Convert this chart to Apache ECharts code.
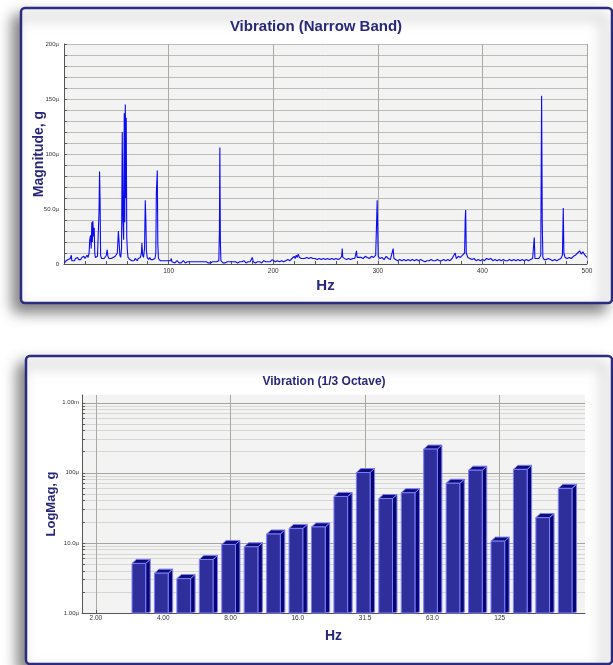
<!DOCTYPE html>
<html><head><meta charset="utf-8">
<script src="https://cdn.jsdelivr.net/npm/echarts@6/dist/echarts.min.js"></script>
<style>html,body{margin:0;padding:0;background:#fff}#c{width:613px;height:665px}</style>
</head><body><div id="c"></div>
<script>
// ---------- Narrow band spectrum: [Hz, magnitude in µg] ----------
const narrowBand = [
[0.5,1],[2,3],[3,2],[4,4],[5,3],[6,5],[7,8],[7.5,3],[9,4],[10,3],[11,5],[12,4],[13,6],[14,4],[15,5],[16,4],[17,6],[18,5],[19,7],[20,5],[21,6],[22,8],[23,6],
[24,10],[24.6,22],[25.4,26],[26,14],[26.6,38],[27.1,20],[27.6,39],[28.2,25],[28.9,33],[29.4,10],[30,6],[31,5],[32,7],[33,6],[33.5,48],[34,84],[34.5,57],[35,8],[35.8,5],[36.6,6],[37.5,4],[38.4,5],[39.5,6],[40.5,8],[41.3,13],[42,7],[43,5],[44,6],[45,5],[46,4],[47,6],[48,5],[49,7],[50,6],
[51,10],[52,30],[52.8,18],[53.4,8],[54.2,6],[55,14],[55.7,120],[56.3,40],[57,22],[57.6,137],[58.1,38],[58.6,145],[59.1,60],[59.5,133],[60,24],[60.6,12],[61.2,6],[62,5],[63,4],[64,5],[65,3],[66,4],[67,3],[68,5],[69,4],[70,3],[71,5],[72,4],[73,6],[74,10],[74.5,19],[75.2,8],[76,6],[77,14],[77.7,58],[78.2,42],[78.8,12],[79.5,6],[80,5],
[81,4],[82,6],[83,4],[84,5],[85,4],[86,3],[87,5],[87.8,10],[88.3,65],[88.8,76],[89.2,85],[89.7,18],[90.3,5],[91,4],[92,3],[93,4],[94,3],[95,2],[96,3],[97,2],[98,3],[99,2],[100,3],[101,2],[102,3],[102.6,5],[103.2,2],[104,3],[105,2],[106,1],[107,2],[108,3],[109,2],[110,1],
[111,2],[112,1],[113,2],[114,3],[115,2],[116,1],[117,2],[118,2],[119,1],[120,2],[121,3],[122,2],[123,1],[124,2],[125,1],[126,2],[127,1],[128,2],[129,3],[130,2],[131,1],[132,2],[133,1],[134,2],[135,1],[136,2],[137,2],[138,1],[139,2],[140,1],[141,2],[142,2],[143,1],[144,2],[145,1],[146,2],[147,2],[148,3],[148.6,30],[149,106],[149.5,20],[150,3],
[151,2],[152,1],[153,2],[154,1],[155,2],[156,2],[157,1],[158,2],[159,1],[160,2],[161,3],[162,2],[163,1],[164,2],[165,2],[166,1],[167,2],[168,2],[169,1],[170,2],[171,2],[172,3],[173,2],[174,1],[175,2],[176,2],[177,3],[178,2],[179,3],[180,6],[181,2],[182,2],[183,1],[184,2],[185,2],[186,3],[187,2],[188,2],[189,1],[190,2],[191,3],[192,2],[193,2],[194,3],[195,2],[196,3],[197,2],[198,3],[199,4],[200,3],
[202,2],[204,3],[206,2],[208,3],[210,2],[212,3],[214,4],[216,3],[218,5],[219,4],[220,7],[221,5],[222,8],[223,6],[224,9],[225,6],[226,7],[227,5],[228,6],[230,5],[232,6],[234,5],[236,6],[238,5],[240,5],[242,4],[244,5],[246,4],[248,5],[250,4],
[252,5],[254,4],[256,5],[258,4],[260,5],[262,4],[264,5],[265.5,7],[266,14],[266.5,6],[268,5],[270,4],[272,5],[274,4],[276,5],[278,5],[279.6,12],[280.2,6],[282,5],[284,6],[286,5],[288,7],[290,6],[292,5],[294,7],[296,6],[298,8],[299.4,58],[299.8,37],[300.4,7],
[302,5],[304,6],[306,4],[308,7],[310,5],[312,4],[313.5,5],[314.7,14],[315.4,5],[317,4],[319,3],[321,4],[323,3],[325,4],[327,3],[329,4],[331,3],[333,4],[335,3],[337,4],[339,3],[341,4],[343,3],[345,2],[347,3],[349,3],
[351,4],[353,3],[355,3],[357,4],[359,3],[361,3],[363,4],[365,3],[367,4],[369,3],[371,5],[372,4],[374,10],[375,5],[377,7],[379,6],[381,8],[383,10],[383.6,42],[384,49],[384.6,10],[386,6],[388,5],[390,4],[392,5],[394,3],[396,4],[398,3],[400,4],
[402,3],[404,5],[406,4],[408,5],[410,3],[412,4],[414,3],[416,4],[418,3],[420,4],[422,3],[424,3],[426,4],[428,3],[430,4],[432,3],[434,4],[436,3],[438,4],[440,3],[442,4],[444,3],[446,4],[448,5],[449.6,24],[450.2,5],
[452,4],[454,5],[455.8,8],[456.6,153],[457.2,40],[457.8,6],[459,4],[461,4],[463,5],[465,4],[467,3],[469,4],[471,3],[473,4],[475,5],[476.5,8],[477.3,51],[477.9,10],[479,6],[481,5],[483,6],[485,5],[487,7],[489,8],[491,10],[493,12],[494.5,9],[496,11],[498,8],[500,6]
];
const nbYTickStep = 10;      // µg
const nbYLabelStep = 50;     // µg

// ---------- 1/3 octave bands ----------
const octBands = ['3.15','4.00','5.00','6.30','8.00','10.0','12.5','16.0','20.0','25.0','31.5','40.0','50.0','63.0','80.0','100','125','160','200','250'];
const octBandIndex = [2,3,4,5,6,7,8,9,10,11,12,13,14,15,16,17,18,19,20,21]; // 1/3-octave steps above 2 Hz
const octMag = [5.1,3.7,3.1,5.8,9.5,8.8,13.4,16.1,16.9,46,101,43,52,218,71,109,10.6,112,23,60]; // µg
const octXTickIdx = [0,3,6,9,12,15,18];
const octXTickLabels = ['2.00','4.00','8.00','16.0','31.5','63.0','125'];
const octXGridIdx = [0,6,12,18];
const octYLabelVals = [1,10,100,1000];
const octYLabels = ['1.00µ','10.0µ','100µ','1.00m'];
const octYGridVals = [1,2,3,4,5,6,7,8,9,10,20,30,40,50,60,70,80,90,100,200,300,400,500,600,700,800,900,1000];

const NAVY = '#28287a';
const FONT = '"Liberation Sans", Arial, sans-serif';
const chart = echarts.init(document.getElementById('c'), null, {renderer:'canvas'});

const xLabel = {fontSize:6.5, color:'#333', fontFamily:FONT};
const yLabel = {fontSize:6, color:'#333', fontFamily:FONT};

chart.setOption({
  animation:false,
  backgroundColor:'#fff',
  graphic:[
    {type:'rect', z:-10, shape:{x:21,y:8,width:591,height:295,r:4},
     style:{fill:'#fff',stroke:'#2b2b80',lineWidth:2.5,shadowBlur:14,shadowOffsetX:-7,shadowOffsetY:8,shadowColor:'rgba(0,0,0,0.5)'}},
    {type:'rect', z:-10, shape:{x:26,y:356,width:586,height:308,r:4},
     style:{fill:'#fff',stroke:'#2b2b80',lineWidth:2.5,shadowBlur:14,shadowOffsetX:-7,shadowOffsetY:8,shadowColor:'rgba(0,0,0,0.5)'}},
    {type:'text', x:316, y:27, style:{text:'Vibration (Narrow Band)', font:'bold 15px '+FONT, fill:NAVY, align:'center', verticalAlign:'middle'}},
    {type:'text', x:324, y:382, style:{text:'Vibration (1/3 Octave)', font:'bold 12px '+FONT, fill:NAVY, align:'center', verticalAlign:'middle'}}
  ],
  grid:[
    {left:64, top:44, right:26, bottom:401, show:true, backgroundColor:'#f3f3f3', borderWidth:0},
    {left:82, top:395, right:28, bottom:52, show:true, backgroundColor:'#f3f3f3', borderWidth:0}
  ],
  xAxis:[
    {gridIndex:0, type:'value', min:0, max:500, interval:100,
     name:'Hz', nameLocation:'middle', nameGap:14,
     nameTextStyle:{fontSize:15, fontWeight:'bold', color:NAVY, fontFamily:FONT},
     axisLine:{onZero:false, lineStyle:{color:'#555', width:1}},
     axisTick:{show:true, inside:true, length:3, lineStyle:{color:'#555'}},
     minorTick:{show:true, splitNumber:5, length:3, lineStyle:{color:'#555'}},
     axisLabel:Object.assign({margin:4, formatter:v=> v===0?'':String(v)}, xLabel),
     splitLine:{show:true, lineStyle:{color:'#aaa9a2', width:1}}},
    {gridIndex:1, type:'value', min:-0.62, max:21.8,
     name:'Hz', nameLocation:'middle', nameGap:16,
     nameTextStyle:{fontSize:14, fontWeight:'bold', color:NAVY, fontFamily:FONT},
     axisLine:{onZero:false, lineStyle:{color:'#555', width:1}},
     axisTick:{show:true, inside:true, length:3, customValues:octXGridIdx, lineStyle:{color:'#555'}},
     axisLabel:Object.assign({margin:2, customValues:octXTickIdx,
        formatter:v=>{const i=octXTickIdx.indexOf(Math.round(v)); return i>=0?octXTickLabels[i]:'';}}, xLabel),
     splitLine:{show:true, lineStyle:{color:'#aaa9a2', width:1}}}
  ],
  yAxis:[
    {gridIndex:0, type:'value', min:0, max:200, interval:nbYTickStep,
     name:'Magnitude, g', nameLocation:'middle', nameGap:18, nameRotate:90, nameMoveOverlap:false,
     nameTextStyle:{fontSize:14, fontWeight:'bold', color:NAVY, fontFamily:FONT},
     axisLine:{show:true, onZero:false, lineStyle:{color:'#555', width:1}},
     axisTick:{show:true, inside:true, length:3, lineStyle:{color:'#555'}},
     axisLabel:Object.assign({margin:5, formatter:v=>{
        if (v % nbYLabelStep !== 0) return '';
        if (v === 0) return '0';
        return (v < 100 ? v.toFixed(1) : String(v)) + 'µ';}}, yLabel),
     splitLine:{show:true, lineStyle:{color:'#bdbdb8', width:1}}},
    {gridIndex:1, type:'log', min:1, max:1290, logBase:10,
     name:'LogMag, g', nameLocation:'middle', nameGap:24, nameRotate:90, nameMoveOverlap:false,
     nameTextStyle:{fontSize:13, fontWeight:'bold', color:NAVY, fontFamily:FONT},
     axisLine:{show:true, onZero:false, lineStyle:{color:'#555', width:1}},
     axisTick:{show:true, inside:true, length:3, customValues:octYGridVals, lineStyle:{color:'#555'}},
     axisLabel:Object.assign({margin:3, customValues:octYLabelVals,
        formatter:v=>{const i=octYLabelVals.findIndex(t=>Math.abs(t-v)/t<1e-6); return i>=0?octYLabels[i]:'';}}, yLabel),
     splitLine:{show:true, lineStyle:{color:['#a5a5a0','#d6d6d2','#d6d6d2','#d6d6d2','#d6d6d2','#d6d6d2','#d6d6d2','#d6d6d2','#d6d6d2'], width:1}}}
  ],
  series:[
    {type:'line', xAxisIndex:0, yAxisIndex:0, data:narrowBand, showSymbol:false, symbol:'none',
     lineStyle:{color:'#0b0bf0', width:1.1}, z:3},
    {type:'custom', xAxisIndex:1, yAxisIndex:1, z:4,
     data: octBandIndex.map((b,i)=>[b, octMag[i], octBands[i]]),
     renderItem:(params, api)=>{
       const x = api.value(0), v = api.value(1);
       const top = api.coord([x, v]);
       const base = api.coord([x, 1]);
       const band = api.size([1, 0])[0];
       const c = top[0], t = top[1], b = base[1];
       const l = c - band*0.39, r = c + band*0.22, dx = band*0.2, dy = band*0.18;
       const edge = '#7c7cff';
       return {type:'group', children:[
         {type:'polygon', shape:{points:[[r,t],[r+dx,t-dy],[r+dx,b-1],[r,b]]}, style:{fill:'#06066e', stroke:edge, lineWidth:1}},
         {type:'polygon', shape:{points:[[l,t],[r,t],[r+dx,t-dy],[l+dx,t-dy]]}, style:{fill:'#0e0e78', stroke:edge, lineWidth:1}},
         {type:'rect', shape:{x:l, y:t, width:r-l, height:b-t}, style:{fill:'#2f2f9c', stroke:edge, lineWidth:1}}
       ]};
     }}
  ]
});
</script></body></html>
